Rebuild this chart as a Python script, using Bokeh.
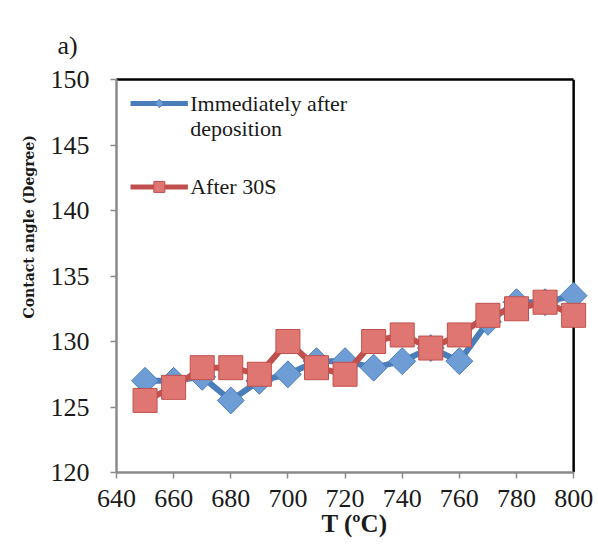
import math
from bokeh.plotting import figure
from bokeh.models import Range1d, Label, FixedTicker, LinearAxis, Title
from bokeh.embed import file_html
from bokeh.resources import INLINE

temps = [650, 660, 670, 680, 690, 700, 710, 720, 730, 740, 750, 760, 770, 780, 790, 800]
immediately = [127.0, 127.0, 127.3, 125.5, 127.0, 127.5, 128.5, 128.5, 128.0, 128.5, 129.5, 128.5, 131.5, 133.0, 133.0, 133.5]
after_30s = [125.5, 126.5, 128.0, 128.0, 127.5, 130.0, 128.0, 127.5, 130.0, 130.5, 129.5, 130.5, 132.0, 132.5, 133.0, 132.0]
x_ticks = [640, 660, 680, 700, 720, 740, 760, 780, 800]
y_ticks = [120, 125, 130, 135, 140, 145, 150]

FONT = "Liberation Serif"
BLUE_LINE = "#4A7EBB"
BLUE_FILL = "#6E9CD4"
RED_LINE = "#C0504D"
RED_FILL = "#E07672"

p = figure(width=596, height=541, output_backend="svg", toolbar_location=None,
           x_range=Range1d(640, 806.6), y_range=Range1d(120, 150),
           min_border_left=116, min_border_right=4, min_border_top=79, min_border_bottom=69)

p.xgrid.visible = False
p.ygrid.visible = False
p.outline_line_color = None
p.background_fill_color = "white"
p.border_fill_color = "white"

for ax in (p.xaxis[0], p.yaxis[0]):
    ax.axis_line_color = "#8A8A8A"
    ax.axis_line_width = 2.5
    ax.major_tick_line_color = "#8A8A8A"
    ax.major_tick_line_width = 1.5
    ax.major_tick_in = 0
    ax.major_tick_out = 6
    ax.minor_tick_line_color = None
    ax.major_label_text_font = FONT
    ax.major_label_text_font_size = "26px"
    ax.major_label_text_color = "#1a1a1a"

p.xaxis[0].ticker = FixedTicker(ticks=x_ticks)
p.xaxis[0].bounds = (640, 800)
p.yaxis[0].ticker = FixedTicker(ticks=y_ticks)
p.xaxis[0].major_label_standoff = 11
p.yaxis[0].major_label_standoff = 21

p.xaxis[0].axis_label = "T (ºC)"
p.xaxis[0].axis_label_text_font = FONT
p.xaxis[0].axis_label_text_font_style = "bold"
p.xaxis[0].axis_label_text_font_size = "25px"
p.xaxis[0].axis_label_text_color = "#1a1a1a"
p.xaxis[0].axis_label_standoff = 0

# top border as an axis line without ticks
top = LinearAxis(ticker=FixedTicker(ticks=[]), bounds=(640, 800),
                 axis_line_color="black", axis_line_width=2.5,
                 major_tick_line_color=None, minor_tick_line_color=None)
p.add_layout(top, "above")

# right border at x = 800
p.segment(x0=[800], y0=[120], x1=[800], y1=[150], line_color="black", line_width=2.5)

# series
p.line(temps, immediately, line_color=BLUE_LINE, line_width=6)
p.scatter(temps, immediately, marker="square", angle=math.pi / 4, size=19,
          fill_color=BLUE_FILL, line_color=BLUE_LINE, line_width=1)
p.line(temps, after_30s, line_color=RED_LINE, line_width=6)
p.scatter(temps, after_30s, marker="square", size=24,
          fill_color=RED_FILL, line_color=RED_LINE, line_width=1)

# manual legend
p.line([644.9, 665.0], [148.17, 148.17], line_color=BLUE_LINE, line_width=5)
p.scatter([655.0], [148.17], marker="square", angle=math.pi / 4, size=6,
          fill_color=BLUE_FILL, line_color=BLUE_LINE)
p.line([644.9, 665.0], [141.8, 141.8], line_color=RED_LINE, line_width=5)
p.scatter([655.0], [141.8], marker="square", size=11,
          fill_color=RED_FILL, line_color=RED_LINE)
for txt, yy in (("Immediately after", 148.17), ("deposition", 146.27), ("After 30S", 141.8)):
    p.add_layout(Label(x=665.8, y=yy, text=txt, text_font=FONT, text_font_size="22px",
                       text_baseline="middle", text_align="left", text_color="#1a1a1a"))

# y-axis title placed as in the reference
p.add_layout(Title(text="Contact angle (Degree)", align="left", offset=154, standoff=18,
                   vertical_align="top",
                   text_font="DejaVu Serif", text_font_style="bold", text_font_size="14px",
                   text_color="#1a1a1a"), "left")

# panel tag
p.add_layout(Title(text="a)", align="left", offset=-59, standoff=36, vertical_align="top",
                   text_font=FONT, text_font_style="normal", text_font_size="26px",
                   text_color="#1a1a1a"), "above")

open("out.html", "w").write(file_html(p, INLINE))
